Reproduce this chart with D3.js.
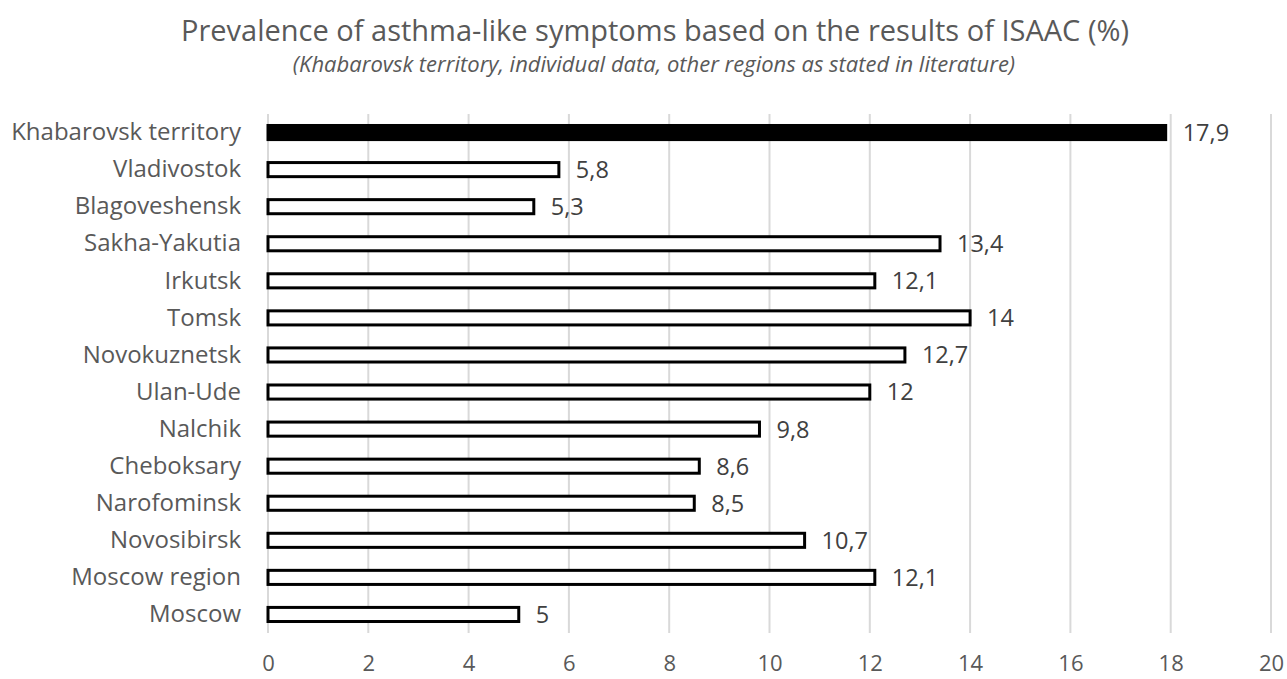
<!DOCTYPE html>
<html>
<head>
<meta charset="utf-8">
<script src="https://cdn.jsdelivr.net/npm/d3@7"></script>
<style>
  body { margin: 0; background: #fff; }
  text { font-family: "Open Sans", sans-serif; }
</style>
</head>
<body>
<div id="chart-area"></div>
<script>
const categories = ['Khabarovsk territory', 'Vladivostok', 'Blagoveshensk', 'Sakha-Yakutia', 'Irkutsk',
  'Tomsk', 'Novokuznetsk', 'Ulan-Ude', 'Nalchik', 'Cheboksary', 'Narofominsk', 'Novosibirsk',
  'Moscow region', 'Moscow']
const values = [17.9, 5.8, 5.3, 13.4, 12.1, 14, 12.7, 12, 9.8, 8.6, 8.5, 10.7, 12.1, 5]
const xTicks = [0, 2, 4, 6, 8, 10, 12, 14, 16, 18, 20]

const W = 1287
const H = 679
const MARGIN = { LEFT: 268, RIGHT: 16, TOP: 114, BOTTOM: 46 }
const WIDTH = W - MARGIN.LEFT - MARGIN.RIGHT
const HEIGHT = H - MARGIN.TOP - MARGIN.BOTTOM
const FONT = '"Open Sans", sans-serif'

const svg = d3.select('#chart-area').append('svg')
  .attr('width', W)
  .attr('height', H)

// TITLES
svg.append('text')
  .attr('x', 655)
  .attr('y', 41)
  .attr('text-anchor', 'middle')
  .attr('font-size', '29px')
  .attr('fill', '#595959')
  .text('Prevalence of asthma-like symptoms based on the results of ISAAC (%)')
svg.append('text')
  .attr('x', 654)
  .attr('y', 72)
  .attr('text-anchor', 'middle')
  .attr('font-size', '22px')
  .attr('font-style', 'italic')
  .attr('fill', '#595959')
  .text('(Khabarovsk territory, individual data, other regions as stated in literature)')

const g = svg.append('g')
  .attr('transform', `translate(${MARGIN.LEFT}, ${MARGIN.TOP})`)

// SCALES
const x = d3.scaleLinear()
  .domain([0, 20])
  .range([0, WIDTH])
const y = d3.scaleBand()
  .domain(categories)
  .range([0, HEIGHT])
  .paddingInner(0.62)
  .paddingOuter(0.31)

// GRID
g.selectAll('.grid')
  .data(xTicks)
  .enter().append('line')
  .attr('class', 'grid')
  .attr('x1', d => x(d))
  .attr('x2', d => x(d))
  .attr('y1', 0)
  .attr('y2', HEIGHT)
  .attr('stroke', '#d9d9d9')
  .attr('stroke-width', 2)

// X AXIS
const xAxis = d3.axisBottom(x)
  .tickValues(xTicks)
  .tickSize(0)
  .tickPadding(22)
const xg = g.append('g')
  .attr('transform', `translate(0, ${HEIGHT})`)
  .call(xAxis)
xg.select('.domain').remove()
xg.selectAll('text')
  .attr('font-size', '22px')
  .attr('fill', '#595959')
  .style('font-family', FONT)

// Y AXIS
const yAxis = d3.axisLeft(y)
  .tickSize(0)
  .tickPadding(27)
const yg = g.append('g').call(yAxis)
yg.select('.domain').remove()
yg.selectAll('text')
  .attr('font-size', '24px')
  .attr('fill', '#595959')
  .style('font-family', FONT)

// BARS
const data = categories.map((c, i) => ({ name: c, value: values[i] }))
g.selectAll('rect.bar')
  .data(data)
  .enter().append('rect')
  .attr('class', 'bar')
  .attr('x', 0)
  .attr('y', d => y(d.name))
  .attr('width', d => x(d.value))
  .attr('height', y.bandwidth())
  .attr('fill', (d, i) => i === 0 ? '#000' : '#fff')
  .attr('stroke', '#000')
  .attr('stroke-width', 3)

// VALUE LABELS
g.selectAll('text.val')
  .data(data)
  .enter().append('text')
  .attr('class', 'val')
  .attr('x', d => x(d.value) + 17)
  .attr('y', d => y(d.name) + y.bandwidth() / 2)
  .attr('dy', '0.36em')
  .attr('font-size', '23.5px')
  .attr('fill', '#404040')
  .text(d => String(d.value).replace('.', ','))
</script>
</body>
</html>
